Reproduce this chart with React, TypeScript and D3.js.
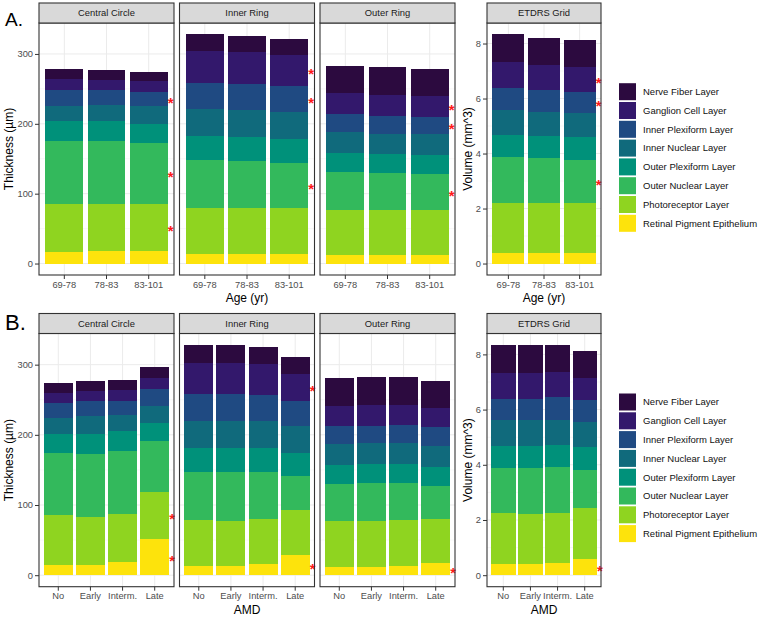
import React, { useEffect, useRef } from 'react';
import * as d3 from 'd3';

const FONT = '"Liberation Sans", Arial, sans-serif';

// bottom -> top stacking order
const layers = [
  'Retinal Pigment Epithelium',
  'Photoreceptor Layer',
  'Outer Nuclear Layer',
  'Outer Plexiform Layer',
  'Inner Nuclear Layer',
  'Inner Plexiform Layer',
  'Ganglion Cell Layer',
  'Nerve Fiber Layer'
];
const layerColors = ['#fde30c', '#8fd420', '#33b95c', '#00917a', '#106a7c', '#1f4a82', '#33186c', '#2c0a3f'];

const ageGroups = ['69-78', '78-83', '83-101'];
const amdGroups = ['No', 'Early', 'Interm.', 'Late'];
const regions = ['Central Circle', 'Inner Ring', 'Outer Ring'];

const thicknessTicks = [0, 100, 200, 300];
const volumeTicks = [0, 2, 4, 6, 8];

// layer thickness (µm) per age group, columns in `layers` order
const centralByAge = [
  [16.1, 69.8, 89.7, 28.0, 21.8, 22.3, 17.1, 13.3],
  [17.6, 68.3, 89.7, 28.0, 22.8, 21.3, 15.7, 13.3],
  [18.0, 67.9, 86.9, 27.5, 24.7, 20.4, 16.1, 13.3]
];
const innerByAge = [
  [14.2, 64.6, 68.8, 34.6, 38.5, 38.0, 46.0, 23.2],
  [14.2, 64.6, 68.3, 33.7, 38.9, 37.1, 45.5, 23.3],
  [14.2, 64.6, 65.0, 34.6, 38.5, 37.0, 44.2, 23.7]
];
const outerByAge = [
  [12.3, 64.6, 54.1, 26.6, 30.3, 25.7, 30.3, 39.0],
  [12.3, 64.6, 52.2, 27.5, 29.4, 25.7, 29.4, 39.9],
  [12.3, 64.6, 51.2, 27.1, 30.8, 24.3, 28.9, 39.4]
];
// layer volume (mm^3)
const etdrsByAge = [
  [0.39, 1.81, 1.66, 0.80, 0.91, 0.80, 0.96, 1.00],
  [0.39, 1.81, 1.63, 0.80, 0.89, 0.78, 0.93, 0.97],
  [0.39, 1.81, 1.58, 0.81, 0.89, 0.77, 0.89, 1.00]
];

const centralByAmd = [
  [15.1, 70.1, 88.5, 27.9, 22.7, 20.4, 15.6, 14.2],
  [15.1, 68.2, 89.4, 28.9, 24.6, 21.8, 15.1, 14.2],
  [19.4, 67.2, 89.9, 28.4, 22.7, 21.3, 15.7, 13.2],
  [52.1, 66.2, 72.4, 26.0, 25.1, 23.2, 16.1, 15.2]
];
const innerByAmd = [
  [13.7, 64.9, 68.1, 34.6, 38.3, 37.9, 45.4, 25.1],
  [13.7, 63.9, 69.1, 34.6, 38.3, 37.9, 45.4, 25.1],
  [15.6, 63.9, 68.2, 33.6, 38.3, 36.9, 45.0, 23.2],
  [28.4, 64.4, 48.7, 33.1, 37.9, 36.4, 38.4, 23.2]
];
const outerByAmd = [
  [12.3, 64.8, 53.0, 27.0, 29.8, 25.1, 29.4, 39.7],
  [12.3, 64.8, 54.0, 27.4, 29.4, 25.1, 29.8, 39.2],
  [13.7, 64.9, 52.5, 27.4, 29.9, 25.0, 29.8, 38.8],
  [17.0, 63.0, 47.3, 27.5, 29.8, 26.0, 27.9, 38.8]
];
const etdrsByAmd = [
  [0.40, 1.84, 1.65, 0.79, 0.93, 0.78, 0.92, 1.03],
  [0.41, 1.82, 1.67, 0.79, 0.94, 0.77, 0.93, 1.01],
  [0.43, 1.84, 1.65, 0.81, 0.90, 0.81, 0.92, 0.98],
  [0.60, 1.83, 1.37, 0.83, 0.91, 0.79, 0.81, 0.99]
];

// significant layers (marked on the last group)
const starsAge = [
  ['Inner Plexiform Layer', 'Outer Nuclear Layer', 'Photoreceptor Layer'],
  ['Ganglion Cell Layer', 'Inner Plexiform Layer', 'Outer Nuclear Layer'],
  ['Ganglion Cell Layer', 'Inner Plexiform Layer', 'Outer Nuclear Layer'],
  ['Ganglion Cell Layer', 'Inner Plexiform Layer', 'Outer Nuclear Layer']
];
const starsAmd = [
  ['Photoreceptor Layer', 'Retinal Pigment Epithelium'],
  ['Ganglion Cell Layer', 'Retinal Pigment Epithelium'],
  ['Retinal Pigment Epithelium'],
  ['Retinal Pigment Epithelium']
];

const facetX = [[39, 174], [179.5, 314.5], [320, 455]];
const etdrsX = [487, 601];

const drawPanel = (svg, o) => {
  const g = svg.append('g');
  const stripBottom = o.top + 20;
  const x = d3.scaleBand().domain(o.groups).range([o.x0, o.x1]).paddingInner(0.1).paddingOuter(0.15);
  const y = d3.scaleLinear().domain([-0.05 * o.yMax, 1.05 * o.yMax]).range([o.bottom, stripBottom]);

  g.append('rect')
    .attr('x', o.x0).attr('y', stripBottom)
    .attr('width', o.x1 - o.x0).attr('height', o.bottom - stripBottom)
    .attr('fill', 'white');

  /* grid */
  g.selectAll('.minor')
    .data(o.minor)
    .join('line')
    .attr('x1', o.x0).attr('x2', o.x1)
    .attr('y1', d => y(d)).attr('y2', d => y(d))
    .attr('stroke', '#f2f2f2').attr('stroke-width', 0.6);
  g.selectAll('.major')
    .data(o.ticks)
    .join('line')
    .attr('x1', o.x0).attr('x2', o.x1)
    .attr('y1', d => y(d)).attr('y2', d => y(d))
    .attr('stroke', '#ebebeb').attr('stroke-width', 1);
  g.selectAll('.vgrid')
    .data(o.groups)
    .join('line')
    .attr('x1', d => x(d) + x.bandwidth() / 2).attr('x2', d => x(d) + x.bandwidth() / 2)
    .attr('y1', stripBottom).attr('y2', o.bottom)
    .attr('stroke', '#ebebeb').attr('stroke-width', 1);

  /* stacked bars */
  const table = o.groups.map((grp, i) => {
    const row = { group: grp };
    layers.forEach((l, j) => (row[l] = o.data[i][j]));
    return row;
  });
  const series = d3.stack().keys(layers)(table);
  series.forEach((s, j) => {
    g.append('g')
      .selectAll('rect')
      .data(s)
      .join('rect')
      .attr('x', d => x(d.data.group))
      .attr('width', x.bandwidth())
      .attr('y', d => y(d[1]))
      .attr('height', d => y(d[0]) - y(d[1]))
      .attr('fill', layerColors[j])
      .attr('shape-rendering', 'crispEdges');
  });

  /* significance stars */
  const last = o.groups.length - 1;
  g.selectAll('.star')
    .data(o.stars)
    .join('text')
    .attr('x', x(o.groups[last]) + x.bandwidth() + 3)
    .attr('y', d => {
      const s = series[layers.indexOf(d)][last];
      return y((s[0] + s[1]) / 2);
    })
    .attr('dy', '0.58em')
    .attr('text-anchor', 'middle')
    .attr('font-size', 15)
    .attr('font-weight', 'bold')
    .attr('font-family', FONT)
    .attr('fill', '#ff1a1a')
    .text('*');

  g.append('rect')
    .attr('x', o.x0).attr('y', stripBottom)
    .attr('width', o.x1 - o.x0).attr('height', o.bottom - stripBottom)
    .attr('fill', 'none').attr('stroke', '#333').attr('stroke-width', 1.1);

  /* strip */
  g.append('rect')
    .attr('x', o.x0).attr('y', o.top)
    .attr('width', o.x1 - o.x0).attr('height', 20)
    .attr('fill', '#d9d9d9').attr('stroke', '#333').attr('stroke-width', 1.1);
  g.append('text')
    .attr('x', (o.x0 + o.x1) / 2).attr('y', o.top + 10)
    .attr('dy', '0.35em')
    .attr('text-anchor', 'middle')
    .attr('font-size', 9.4)
    .attr('font-family', FONT)
    .attr('fill', '#1a1a1a')
    .text(o.title);

  const styleAxis = a => {
    a.select('.domain').remove();
    a.selectAll('line').attr('stroke', '#333');
    a.selectAll('text').attr('fill', '#4d4d4d').attr('font-size', 9.3).attr('font-family', FONT);
  };

  const xAxis = d3.axisBottom(x).tickSize(4).tickSizeOuter(0).tickPadding(2);
  g.append('g')
    .attr('transform', `translate(0,${o.bottom})`)
    .call(xAxis)
    .call(styleAxis);

  if (o.showY) {
    const yAxis = d3.axisLeft(y).tickValues(o.ticks).tickSize(4).tickPadding(2).tickFormat(d3.format('d'));
    g.append('g')
      .attr('transform', `translate(${o.x0},0)`)
      .call(yAxis)
      .call(styleAxis);
  }
};

const drawRow = (svg, row) => {
  const totals = row.facets.map(d => d3.max(d, v => d3.sum(v)));
  const facetMax = d3.max(totals);
  row.facets.forEach((data, i) => {
    drawPanel(svg, {
      x0: facetX[i][0], x1: facetX[i][1], top: row.top, bottom: row.bottom,
      title: regions[i], groups: row.groups, data, stars: row.stars[i],
      yMax: facetMax, ticks: thicknessTicks, minor: [50, 150, 250, 350],
      showY: i === 0
    });
  });
  drawPanel(svg, {
    x0: etdrsX[0], x1: etdrsX[1], top: row.top, bottom: row.bottom,
    title: 'ETDRS Grid', groups: row.groups, data: row.etdrs, stars: row.stars[3],
    yMax: d3.max(row.etdrs, v => d3.sum(v)), ticks: volumeTicks, minor: [1, 3, 5, 7],
    showY: true
  });

  const mid = (row.top + 20 + row.bottom) / 2;
  const addText = (txt, xPos, yPos, size, rotate = false, anchor = 'middle') =>
    svg.append('text')
      .attr('transform', rotate ? `translate(${xPos},${yPos}) rotate(-90)` : `translate(${xPos},${yPos})`)
      .attr('text-anchor', anchor)
      .attr('font-size', size)
      .attr('font-family', FONT)
      .attr('fill', 'black')
      .text(txt);

  addText('Thickness (µm)', 12.5, mid, 12, true);
  addText('Volume (mm^3)', 472, mid, 12, true);
  addText(row.xTitle, (facetX[0][0] + facetX[2][1]) / 2, row.xTitleY, 12);
  addText(row.xTitle, (etdrsX[0] + etdrsX[1]) / 2, row.xTitleY, 12);
  addText(row.label, 5, row.labelY, row.labelSize, false, 'start');

  /* legend, top layer first */
  const legend = svg.append('g');
  const order = layers.map((l, j) => j).reverse();
  order.forEach((j, k) => {
    const cy = row.legendY + k * 18.8;
    legend.append('rect')
      .attr('x', 619).attr('y', cy - 8.5)
      .attr('width', 17).attr('height', 17)
      .attr('fill', layerColors[j]);
    legend.append('text')
      .attr('x', 643).attr('y', cy)
      .attr('dy', '0.35em')
      .attr('font-size', 9.5)
      .attr('font-family', FONT)
      .attr('fill', '#111')
      .text(layers[j]);
  });
};

const rows = [
  {
    top: 3, bottom: 275, groups: ageGroups,
    facets: [centralByAge, innerByAge, outerByAge], etdrs: etdrsByAge, stars: starsAge,
    xTitle: 'Age (yr)', xTitleY: 302, label: 'A.', labelY: 25.7, labelSize: 19, legendY: 91.7
  },
  {
    top: 313.5, bottom: 586.7, groups: amdGroups,
    facets: [centralByAmd, innerByAmd, outerByAmd], etdrs: etdrsByAmd, stars: starsAmd,
    xTitle: 'AMD', xTitleY: 614, label: 'B.', labelY: 330, labelSize: 22, legendY: 402
  }
];

const App = () => {
  const svgRef = useRef(null);

  useEffect(() => {
    document.body.style.margin = '0';
    const svg = d3.select(svgRef.current);
    svg.selectAll('*').remove();
    rows.forEach(row => drawRow(svg, row));
  }, []);

  return (
    <svg ref={svgRef} width={760} height={617} style={{ display: 'block', background: 'white' }} />
  );
};

export default App;
